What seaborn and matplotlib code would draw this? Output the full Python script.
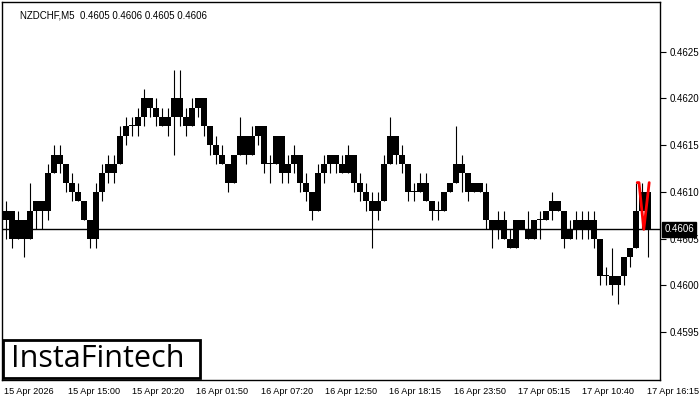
import numpy as np
import pandas as pd
import seaborn as sns
import matplotlib
matplotlib.use("Agg")
import matplotlib.pyplot as plt
from matplotlib.patches import Rectangle

# ---- data (prices in pips above 0.4500, i.e. 106 -> 0.4606) ----
opens = [107, 108, 105, 107, 105, 108, 109, 108, 112, 114, 113, 111, 110, 109, 107, 105, 110, 112, 112, 113,
         116, 117, 117, 118, 120, 119, 118, 117, 118, 120, 118, 117, 119, 120, 117, 115, 114, 113, 111, 114,
         116, 114, 116, 117, 113, 113, 116, 112, 113, 114, 111, 110, 108, 112, 113, 114, 113, 112, 114, 111,
         110, 109, 108, 109, 113, 116, 114, 113, 110, 110, 111, 109, 108, 108, 110, 111, 113, 112, 110, 111,
         110, 107, 106, 107, 105, 104, 107, 106, 105, 107, 107, 108, 109, 108, 105, 106, 107, 106, 107, 105,
         101, 101, 100, 101, 103, 104, 108, 110]
highs = [109, 108, 108, 107, 111, 109, 109, 113, 115, 115, 113, 112, 111, 109, 107, 111, 113, 114, 114, 117,
         118, 118, 119, 121, 120, 120, 119, 119, 123, 123, 119, 120, 120, 120, 117, 116, 115, 113, 114, 118,
         116, 117, 117, 117, 114, 116, 116, 114, 115, 114, 112, 110, 113, 114, 114, 114, 114, 115, 114, 112,
         111, 110, 110, 114, 118, 116, 115, 113, 111, 112, 112, 109, 109, 110, 111, 117, 114, 112, 111, 111,
         111, 107, 108, 108, 106, 107, 107, 108, 107, 108, 108, 110, 109, 108, 107, 108, 108, 108, 108, 105,
         102, 104, 101, 103, 104, 111, 111, 111]
lows = [105, 104, 105, 103, 105, 106, 106, 107, 112, 112, 110, 109, 109, 107, 104, 104, 109, 111, 111, 113,
        115, 116, 116, 117, 118, 117, 117, 116, 114, 117, 116, 117, 118, 116, 114, 113, 113, 110, 111, 114,
        113, 114, 115, 112, 111, 113, 111, 111, 112, 110, 109, 107, 108, 111, 112, 112, 112, 112, 110, 109,
        108, 104, 107, 109, 113, 113, 112, 109, 109, 110, 109, 107, 107, 108, 110, 111, 110, 109, 110, 110,
        106, 104, 105, 105, 104, 104, 106, 105, 105, 105, 107, 107, 108, 104, 105, 105, 105, 105, 104, 100,
        100, 99, 98, 100, 102, 104, 106, 103]
closes = [108, 105, 107, 105, 108, 109, 108, 112, 114, 113, 111, 110, 109, 107, 105, 110, 112, 113, 113, 116,
          117, 117, 118, 120, 119, 118, 117, 118, 120, 118, 117, 119, 120, 117, 115, 114, 113, 111, 114, 116,
          114, 116, 117, 113, 113, 116, 112, 113, 114, 111, 110, 108, 112, 113, 114, 113, 112, 114, 111, 110,
          109, 108, 109, 113, 116, 114, 113, 110, 110, 111, 109, 108, 108, 110, 111, 113, 112, 110, 111, 110,
          107, 106, 107, 105, 104, 107, 106, 105, 107, 107, 108, 109, 108, 105, 106, 107, 106, 107, 105, 101,
          101, 100, 101, 103, 104, 108, 110, 106]

pattern_idx = [105.2, 105.5, 106.3, 107.2]
pattern_pips = [111, 111, 106, 111]

x_labels = ["15 Apr 2026", "15 Apr 15:00", "15 Apr 20:20", "16 Apr 01:50", "16 Apr 07:20",
            "16 Apr 12:50", "16 Apr 18:15", "16 Apr 23:50", "17 Apr 05:15", "17 Apr 10:40",
            "17 Apr 16:15"]
y_ticks = [0.4595, 0.4600, 0.4605, 0.4610, 0.4615, 0.4620, 0.4625]
current_price = 0.4606
title_text = "NZDCHF,M5  0.4605 0.4606 0.4605 0.4606"
logo_text = "InstaFintech"

base = 0.45
pip = 0.0001
df = pd.DataFrame({
    "i": np.arange(len(opens)),
    "open": base + np.array(opens) * pip,
    "high": base + np.array(highs) * pip,
    "low": base + np.array(lows) * pip,
    "close": base + np.array(closes) * pip,
})

sns.set_theme(style="white")
plt.rcParams["font.family"] = ["Liberation Sans", "DejaVu Sans"]

fig = plt.figure(figsize=(7, 4), dpi=100)
ax = fig.add_axes([2 / 700, 20 / 400, 658 / 700, 378 / 400])

# wicks
ax.vlines(df["i"], df["low"], df["high"], color="black", linewidth=0.8, zorder=2)
# bodies
body_bottom = np.minimum(df["open"], df["close"])
body_h = np.maximum(np.abs(df["close"] - df["open"]), 0.000012)
ax.bar(df["i"], body_h, bottom=body_bottom, width=0.85, color="black", edgecolor="black",
       linewidth=0, zorder=3)

# current price line
ax.axhline(current_price, color="black", linewidth=1.0, zorder=1)

# red pattern
pat = pd.DataFrame({"x": pattern_idx, "y": base + np.array(pattern_pips) * pip})
sns.lineplot(data=pat, x="x", y="y", color="red", linewidth=2, sort=False, ax=ax, zorder=4)

# axes limits (x in candle index, 6 px per candle, first candle centre at px 6)
ax.set_xlim(-4 / 6, 109)
ax.set_ylim(0.45899, 0.46303)

# x ticks
tick_px = 3.6 + 64.3 * np.arange(len(x_labels))
ax.set_xticks((tick_px - 6) / 6)
ax.set_xticklabels(x_labels, fontsize=6.6, ha="left")
ax.tick_params(axis="x", direction="out", length=4, width=0.8, pad=1, colors="black")
ax.set_xlabel("")

# y ticks on right
ax.yaxis.tick_right()
ax.set_yticks(y_ticks)
ax.set_yticklabels([f"{v:.4f}" for v in y_ticks], fontsize=7)
ax.tick_params(axis="y", direction="out", length=4, width=0.8, pad=3, colors="black")
ax.set_ylabel("")

for s in ax.spines.values():
    s.set_color("black")
    s.set_linewidth(1.0)

# current price label box
ax.annotate(f"{current_price:.4f}", xy=(1.0, current_price), xycoords=("axes fraction", "data"),
            xytext=(3, 0), textcoords="offset points", fontsize=7, color="white",
            va="center", ha="left",
            bbox=dict(boxstyle="square,pad=0.25", fc="black", ec="black"), zorder=10,
            annotation_clip=False)

# title text
ax.text(18 / 658, 1 - 8 / 378, title_text, transform=ax.transAxes, fontsize=7,
        va="top", ha="left", color="black")

# logo box
fig.patches.append(Rectangle((3 / 700, 22 / 400), 197 / 700, 38 / 400, transform=fig.transFigure,
                             facecolor="white", edgecolor="black", linewidth=2, zorder=20))
fig.text(11 / 700, 41 / 400, logo_text, fontsize=22, family="Open Sans", weight="medium",
         color="black", va="center", ha="left", zorder=21)

fig.savefig("out.png", dpi=100)
